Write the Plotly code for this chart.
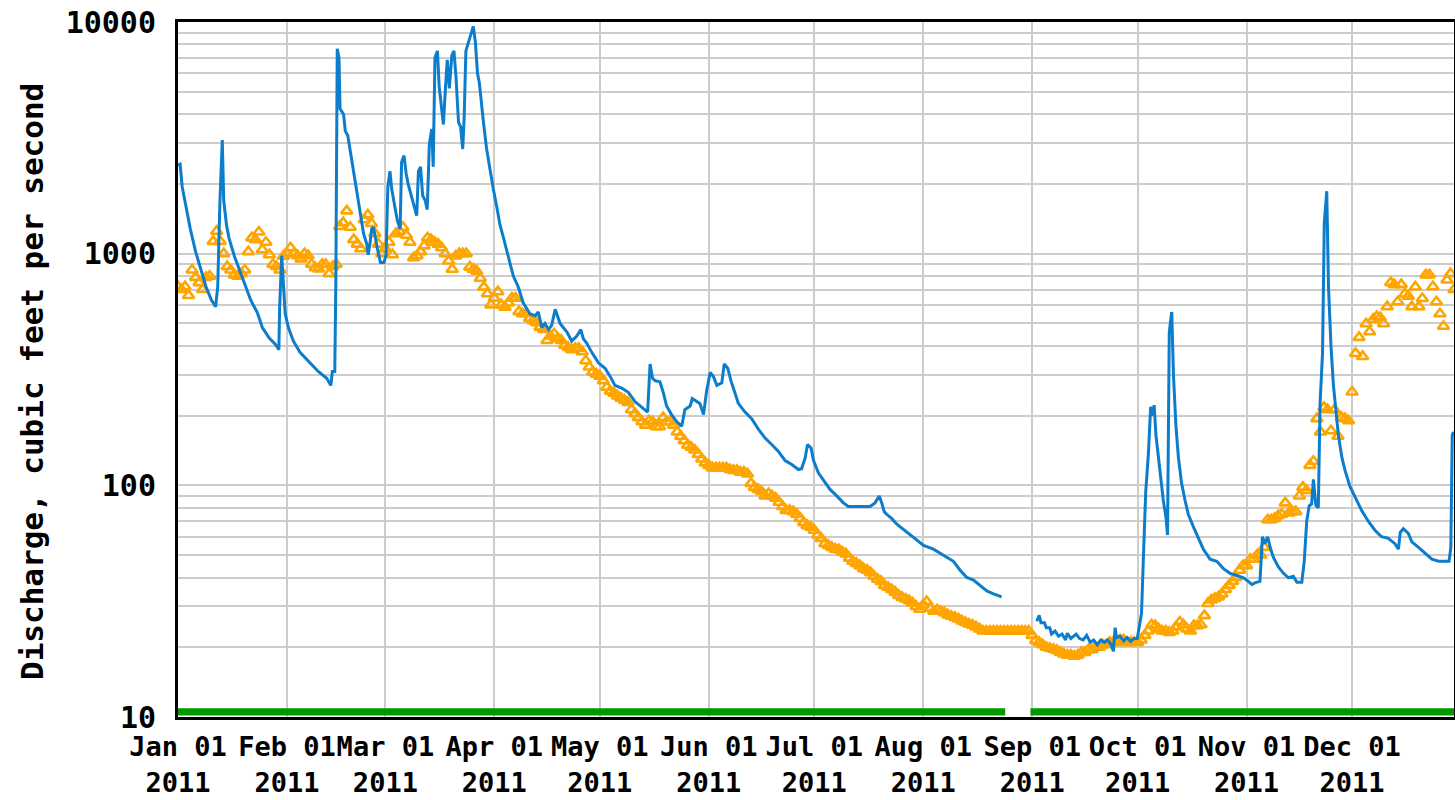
import pandas as pd
import plotly.graph_objects as go

START = pd.Timestamp("2011-01-01")

# Month tick labels
month_names = ["Jan", "Feb", "Mar", "Apr", "May", "Jun",
               "Jul", "Aug", "Sep", "Oct", "Nov", "Dec"]
month_starts = pd.date_range("2011-01-01", periods=12, freq="MS")

# Discharge record: days since 1 Jan 2011 and discharge (cfs); None = missing record
blue_day = [
    0.0, 0.6, 1.2, 2.0, 3.5, 5.0, 6.5, 8.0, 9.5, 10.7, 11.3, 11.9, 12.6, 13.0, 13.8,
    14.5, 16.0, 18.3, 20.7, 22.6, 24.0, 25.9, 27.8, 28.7, 28.9, 29.5, 30.0, 30.5, 31.4,
    32.8, 34.7, 37.1, 39.9, 42.3, 43.5, 43.9, 44.6, 44.9, 45.3, 45.8, 46.1, 47.1, 47.6,
    48.3, 49.0, 50.0, 50.9, 51.9, 52.8, 53.7, 54.1, 54.6, 55.1, 55.6, 56.1, 56.9, 57.6,
    58.6, 59.2, 59.7, 60.3, 60.8, 61.7, 62.4, 63.2, 63.6, 64.3, 64.9, 65.5, 66.2, 67.1,
    67.9, 68.4, 69.0, 69.6, 70.3, 70.9, 71.5, 72.2, 72.6, 73.1, 73.8, 74.3, 75.0, 75.5,
    76.0, 76.6, 77.2, 77.9, 78.5, 79.1, 79.8, 80.4, 81.0, 81.4, 81.9, 82.6, 83.3, 84.0,
    84.6, 85.2, 85.7, 86.1, 86.9, 87.8, 88.8, 89.7, 90.7, 91.6, 92.6, 93.5, 94.4, 95.4,
    96.8, 98.2, 99.2, 100.1, 101.6, 102.5, 103.5, 104.4, 105.4, 106.3, 107.3, 107.7,
    108.7, 109.6, 110.6, 112.0, 113.4, 114.6, 115.3, 116.3, 117.7, 119.6, 121.5, 122.9,
    124.3, 126.2, 128.1, 130.0, 131.9, 133.6, 134.3, 135.0, 135.7, 137.1, 138.1, 139.0,
    140.4, 141.9, 143.3, 144.2, 145.7, 146.3, 147.6, 148.5, 149.5, 150.4, 151.4, 152.3,
    153.3, 154.7, 155.4, 156.4, 157.3, 158.5, 159.4, 161.3, 163.2, 165.1, 167.0, 168.9,
    170.8, 172.7, 174.6, 176.5, 177.4, 178.4, 179.1, 180.1, 180.8, 182.2, 183.6, 185.5,
    187.4, 189.3, 190.7, 194.0, 196.9, 198.3, 199.5, 200.2, 200.9, 201.6, 203.0, 204.5,
    207.3, 210.2, 212.1, 214.9, 216.8, 218.7, 220.6, 222.5, 224.4, 226.3, 228.2, 230.1,
    232.0, 234.3, 239.0,
    244.3, 245.0, 245.5, 246.5, 247.0, 248.0, 248.5, 249.5, 250.5, 251.5, 252.5, 253.0,
    254.0, 255.5, 256.5, 257.5, 258.5, 259.5, 260.5, 261.5, 262.5, 263.5, 264.5, 265.5,
    266.1, 266.6, 267.0, 268.0, 269.0, 270.0, 271.0, 272.0, 272.9, 273.5, 274.1, 274.6,
    275.3, 276.1, 276.7, 277.3, 277.7, 278.2, 278.9, 279.6, 280.3, 281.1, 281.5, 282.0,
    282.7, 283.2, 283.9, 284.6, 285.5, 286.5, 287.4, 288.9, 290.3, 291.7, 293.6, 295.5,
    297.4, 299.3, 301.2, 303.1, 304.5, 305.5, 306.5, 307.8, 308.5, 309.2, 310.0, 310.7,
    311.6, 313.0, 314.5, 315.9, 317.3, 318.3, 319.7, 320.4, 321.1, 321.8, 322.5, 323.0,
    323.7, 324.4, 324.9, 325.6, 326.1, 326.8, 327.3, 328.0, 328.7, 329.4, 330.1, 331.1,
    332.0, 333.4, 334.9, 336.7, 338.6, 340.5, 342.4, 344.3, 346.2, 347.2, 347.7, 348.6,
    350.0, 351.0, 352.9, 354.8, 356.7, 358.6, 360.5, 361.6, 362.1, 362.5, 362.9,
]
blue_cfs = [
    2400, 2430, 1940, 1660, 1280, 1020, 857, 718, 630, 590, 718, 1630, 3090, 1700, 1330,
    1170, 980, 785, 630, 555, 480, 433, 405, 385, 580, 980, 718, 550, 480,
    420, 375, 345, 310, 290, 270, 310, 310, 750, 7670, 7000, 4220, 4000, 3380,
    3240, 2770, 2220, 1780, 1460, 1220, 1100, 990, 1100, 1280, 1300, 1170, 1020, 915,
    915, 990, 1940, 2270, 1900, 1590, 1390, 1280, 2480, 2650, 2220, 1990, 1820, 1590,
    1460, 2270, 2370, 1780, 1700, 1550, 2960, 3450, 2370, 7010, 7500, 5260, 4220, 3610,
    4930, 6870, 5170, 7180, 7500, 5750, 3690, 3530, 2830, 3850, 7500, 8190, 8950, 9570,
    8190, 6010, 5500, 4710, 3690, 2830, 2270, 1900, 1590, 1330, 1170, 1020, 915, 800,
    718, 613, 575, 550, 540, 560, 480, 500, 470, 490, 575, 550,
    500, 480, 460, 420, 440, 470, 430, 410, 375, 338, 320, 296,
    270, 263, 252, 230, 217, 207, 334, 290, 283, 280, 250, 220,
    202, 188, 180, 212, 220, 237, 230, 225, 202, 257, 307, 295,
    270, 277, 334, 320, 283, 250, 226, 207, 194, 175, 160, 150,
    140, 128, 123, 117, 118, 131, 150, 145, 128, 113, 105, 96,
    90, 84, 81, 81, 81, 84, 90, 84, 77, 75, 72, 68,
    63, 58, 55, 53, 51, 49, 47, 43, 40, 39, 37, 35,
    34, 33, None,
    25.9, 27.5, 25.5, 25.5, 24.3, 24.3, 22.8, 23.5, 22.3, 22.8, 21.5, 23.0,
    21.8, 22.8, 21.8, 21.5, 22.5, 21.0, 21.5, 20.5, 21.5, 21.0, 21.5, 20.5,
    19.2, 24.3, 22.0, 22.3, 21.3, 22.0, 21.2, 21.8, 21.8, 24.7, 28.0, 46.8,
    93.6, 140, 218, 200, 222, 165, 132, 104, 86, 72, 61, 459,
    560, 297, 180, 132, 102, 86, 75, 66, 59, 53, 48, 47,
    43.7, 41.7, 40.8, 39.9, 38.5, 37.3, 38.0, 38.5, 60, 56, 60, 54,
    49, 44.6, 41.7, 39.9, 40.5, 38.2, 38.2, 47, 70, 81.6, 83, 106,
    82, 80, 226, 372, 1360, 1860, 718, 400, 270, 207, 165, 132,
    116, 99, 89, 78, 70, 64, 60, 59, 56, 53, 62.6, 65,
    62, 57, 54, 51, 48, 47, 47, 47, 54, 165, 170,
]

# Daily median discharge (cfs), one value per day from 1 Jan
median_cfs = [
    720, 700, 720, 660, 850, 790, 750, 700, 790, 800,
    1130, 1250, 1130, 1000, 880, 850, 810, 800, 820, 850,
    1020, 1170, 1150, 1240, 1040, 1120, 990, 900, 880, 850,
    975, 1000, 1060, 1000, 980, 950, 1000, 980, 900, 870,
    860, 900, 900, 820, 880, 900, 1310, 1360, 1530, 1300,
    1150, 1100, 1050, 1400, 1470, 1350, 1220, 1100, 1000, 1050,
    1120, 990, 1220, 1250, 1300, 1200, 1120, 960, 980, 1020,
    1080, 1170, 1150, 1120, 1100, 1060, 1000, 930, 857, 977,
    1000, 1000, 1000, 875, 857, 840, 783, 717, 671, 601,
    643, 685, 601, 588, 612, 643, 643, 562, 550, 550,
    526, 514, 503, 482, 471, 422, 441, 451, 431, 422,
    403, 394, 385, 390, 390, 377, 345, 324, 309, 302,
    296, 283, 265, 255, 250, 243, 238, 233, 228, 212,
    204, 196, 188, 182, 190, 188, 179, 179, 196, 188,
    188, 182, 170, 163, 156, 149, 146, 142, 136, 130,
    125, 122, 119, 119, 119, 119, 119, 117, 116, 116,
    114, 114, 112, 102, 98, 96, 94, 90, 92, 90,
    88, 84.5, 81, 78, 78, 77, 75, 72, 69, 67,
    66, 64, 61, 59, 56, 55, 54, 53, 52.8, 51.5,
    50.6, 48.5, 47, 46, 45, 43.7, 43, 42, 40.5, 39.3,
    38.5, 37, 36.3, 35.5, 34.6, 33.5, 32.8, 32.3, 31.8, 31,
    30, 29.2, 30.5, 31.5, 29.5, 28.6, 29, 28.6, 28.2, 27.6,
    27.2, 26.9, 26.5, 26, 25.6, 25.2, 24.9, 24.5, 24, 23.5,
    23.5, 23.5, 23.5, 23.5, 23.5, 23.5, 23.5, 23.5, 23.5, 23.5,
    23.5, 23.5, 23.5, 22.5, 21.4, 21, 20.5, 20, 19.8, 19.6,
    19.4, 19, 18.7, 18.5, 18.5, 18.3, 18.5, 19, 19, 19.5,
    19.5, 20, 20, 20.5, 20.5, 21, 21, 21, 21.5, 21.5,
    21, 21, 21, 21, 21.5, 22.5, 23.5, 25, 24.8, 24,
    23.5, 23.5, 23.2, 23.5, 24.5, 25.7, 25, 24, 23.5, 24.8,
    24.8, 25, 27.4, 30.9, 32, 32.5, 33, 34, 35.5, 37,
    38.5, 40, 43, 45, 45, 48, 48, 50, 50, 54,
    71, 71, 72, 74, 75, 84, 76, 77, 77, 90,
    98, 95, 122, 127, 194, 170, 217, 212, 172, 212,
    163, 196, 194, 190, 253, 371, 435, 360, 498, 460,
    520, 535, 530, 498, 590, 750, 735, 620, 735, 670,
    655, 590, 718, 590, 640, 810, 810, 720, 620, 550,
    486, 770, 820, 700,
]

# Periods covered by approved data (start, end)
approved_start = ["2010-12-31 22:00", "2011-08-31 12:00"]
approved_end = ["2011-08-24 08:00", "2011-12-30 00:00"]

blue_x = START + pd.to_timedelta(blue_day, unit="D")
median_x = pd.date_range(START, periods=len(median_cfs), freq="D")

FONT = "DejaVu Sans Mono"
GRID = "#cccccc"

fig = go.Figure()

fig.add_trace(go.Scatter(
    x=median_x, y=median_cfs, mode="markers",
    marker=dict(symbol="triangle-up-open", size=10, color="#ffa500",
                line=dict(width=2.6, color="#ffa500")),
    showlegend=False, hoverinfo="x+y",
))

fig.add_trace(go.Scatter(
    x=blue_x, y=blue_cfs, mode="lines",
    line=dict(color="#0b7dcc", width=3),
    connectgaps=False, showlegend=False, hoverinfo="x+y",
))

for s, e in zip(approved_start, approved_end):
    fig.add_shape(type="rect", xref="x", yref="paper",
                  x0=s, x1=e, y0=0.002, y1=0.0125,
                  fillcolor="#009900", line=dict(width=0), layer="above")

minor_vals = [m * 10 ** k for k in (1, 2, 3) for m in range(2, 10)]

fig.update_xaxes(
    type="date",
    range=["2011-01-01", "2011-12-30"],
    tickvals=month_starts,
    ticktext=[f"{m} 01<br>2011" for m in month_names],
    tickangle=0, automargin=False,
    tickfont=dict(family=FONT, size=27, color="black", weight="bold"),
    showgrid=True, gridcolor=GRID, gridwidth=2,
    showline=True, linecolor="black", linewidth=3, mirror=True,
    ticks="", ticklabelstandoff=4, zeroline=False,
)

fig.update_yaxes(
    type="log",
    range=[1, 4],
    tickvals=[10, 100, 1000, 10000],
    ticktext=["10", "100", "1000", "10000"],
    automargin=False,
    tickfont=dict(family=FONT, size=30, color="black", weight="bold"),
    showgrid=True, gridcolor=GRID, gridwidth=2,
    minor=dict(tickvals=minor_vals, showgrid=True, gridcolor=GRID, gridwidth=2, ticks=""),
    showline=True, linecolor="black", linewidth=3, mirror=True,
    ticks="", ticklabelstandoff=13,
)

# Vertical axis title, placed left of the tick labels
fig.add_annotation(
    text="Discharge, cubic feet per second",
    xref="paper", yref="paper", x=-146 / 1276, y=0.482,
    xanchor="center", yanchor="middle", textangle=-90, showarrow=False,
    font=dict(family=FONT, size=31, color="black", weight="bold"),
)

fig.update_layout(
    width=1455, height=800,
    margin=dict(l=178, r=1, t=22, b=83),
    plot_bgcolor="white", paper_bgcolor="white",
    showlegend=False,
)

fig.write_html("out.html")
